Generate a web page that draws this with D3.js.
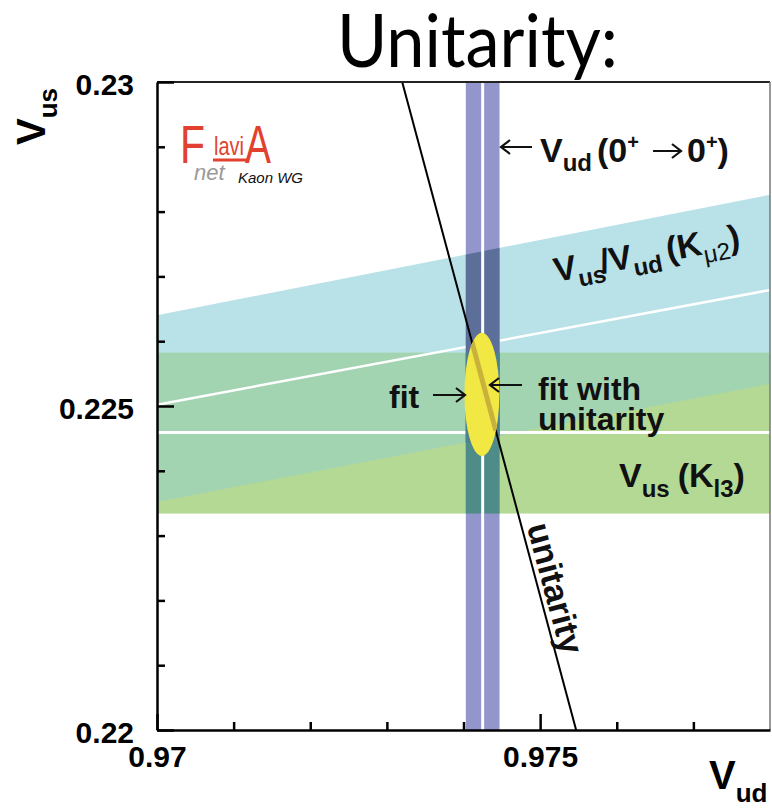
<!DOCTYPE html>
<html>
<head>
<meta charset="utf-8">
<script src="https://cdn.jsdelivr.net/npm/d3@7"></script>
<style>
	body { margin: 0; background: #fff; }
	text { font-family: "Liberation Sans", Arial, Helvetica, sans-serif; }
</style>
</head>
<body>
<div id="chart"></div>
<script>
// Axis ranges and ticks
var vudDomain = [0.97, 0.978];
var vusDomain = [0.22, 0.23];
var vudMinorTicks = [0.971, 0.972, 0.973, 0.974, 0.976, 0.977];
var vudMajorTicks = [0.97, 0.975];
var vudTickLabels = ["0.97", "0.975"];
var vusMinorTicks = [0.221, 0.222, 0.223, 0.224, 0.226, 0.227, 0.228, 0.229];
var vusMajorTicks = [0.22, 0.225, 0.23];
var vusTickLabels = ["0.22", "0.225", "0.23"];

// Vud from 0+ -> 0+ decays: low, central, high
var vudBand = [0.97403, 0.97425, 0.97447];
// Vus from Kl3: low, central, high
var kl3Band = [0.22334, 0.22459, 0.22582];
// Vus/Vud from Kmu2, read at the left and right edges
var km2Vud = [0.97, 0.978];
var km2Low = [0.22352, 0.22534];
var km2Mid = [0.22502, 0.22679];
var km2High = [0.22640, 0.22826];
// unitarity line end points
var unitarityVud = [0.97320, 0.97547];
var unitarityVus = [0.23, 0.22];
// fit ellipse: centre and half widths
var fitCenter = [0.97424, 0.22518];
var fitRadius = [0.000228, 0.00095];
// fit with unitarity (segment on the unitarity line)
var fitUnitVus = [0.22605, 0.22462];

var width = 772, height = 809;
var colors = {
	cyan: "#b8e2e8", green: "#b3d994", overlap: "#a3d4b1",
	blue: "#9296cb", blueCyan: "#5c6f98", blueGreen: "#4f8b89", blueOverlap: "#4d8090",
	fit: "#f1e843", fitUnit: "#c8b23c", logo: "#e3412f"
};

var svg = d3.select("#chart")
	.append("svg")
		.attr("width", width)
		.attr("height", height);

var x = d3.scaleLinear().domain(vudDomain).range([157, 770]);
var y = d3.scaleLinear().domain(vusDomain).range([730, 82]);

// unitarity: Vud as a straight line in Vus
var unitX = d3.scaleLinear().domain(unitarityVus).range(unitarityVud);

var defs = svg.append("defs");
defs.append("clipPath").attr("id", "plot")
	.append("rect")
		.attr("x", x(vudDomain[0])).attr("y", y(vusDomain[1]))
		.attr("width", x(vudDomain[1]) - x(vudDomain[0]))
		.attr("height", y(vusDomain[0]) - y(vusDomain[1]));
defs.append("clipPath").attr("id", "kl3")
	.append("rect")
		.attr("x", x(vudDomain[0])).attr("y", y(kl3Band[2]))
		.attr("width", x(vudDomain[1]) - x(vudDomain[0]))
		.attr("height", y(kl3Band[0]) - y(kl3Band[2]));
defs.append("clipPath").attr("id", "vud")
	.append("rect")
		.attr("x", x(vudBand[0])).attr("y", y(vusDomain[1]))
		.attr("width", x(vudBand[2]) - x(vudBand[0]))
		.attr("height", y(vusDomain[0]) - y(vusDomain[1]));
defs.append("clipPath").attr("id", "fitclip")
	.append("ellipse")
		.attr("cx", x(fitCenter[0])).attr("cy", y(fitCenter[1]))
		.attr("rx", x(fitCenter[0] + fitRadius[0]) - x(fitCenter[0]))
		.attr("ry", y(fitCenter[1]) - y(fitCenter[1] + fitRadius[1]));

var km2Points = [
	[km2Vud[0], km2Low[0]], [km2Vud[1], km2Low[1]],
	[km2Vud[1], km2High[1]], [km2Vud[0], km2High[0]]
];
var polyLine = d3.line()
	.x(function(d) { return x(d[0]); })
	.y(function(d) { return y(d[1]); });

var plot = svg.append("g").attr("clip-path", "url(#plot)");

// Draws the Kmu2 / Kl3 bands with a given colour set
function drawBands(g, c) {
	g.append("rect")
		.attr("x", x(vudDomain[0])).attr("y", y(vusDomain[1]))
		.attr("width", x(vudDomain[1]) - x(vudDomain[0]))
		.attr("height", y(vusDomain[0]) - y(vusDomain[1]))
		.style("fill", c.base);
	g.append("path")
		.attr("d", polyLine(km2Points) + "Z")
		.style("fill", c.cyan);
	g.append("rect")
		.attr("x", x(vudDomain[0])).attr("y", y(kl3Band[2]))
		.attr("width", x(vudDomain[1]) - x(vudDomain[0]))
		.attr("height", y(kl3Band[0]) - y(kl3Band[2]))
		.style("fill", c.green);
	g.append("g").attr("clip-path", "url(#kl3)")
		.append("path")
			.attr("d", polyLine(km2Points) + "Z")
			.style("fill", c.overlap);
}

drawBands(plot, {base: "#fff", cyan: colors.cyan, green: colors.green, overlap: colors.overlap});

// Central values of the two Vus measurements
plot.append("path")
	.attr("d", polyLine([[km2Vud[0], km2Mid[0]], [km2Vud[1], km2Mid[1]]]))
	.style("stroke", "#fff").style("stroke-width", 2.5).style("fill", "none");
plot.append("line")
	.attr("x1", x(vudDomain[0])).attr("x2", x(vudDomain[1]))
	.attr("y1", y(kl3Band[1])).attr("y2", y(kl3Band[1]))
	.style("stroke", "#fff").style("stroke-width", 3);

// Vud band (colours differ where it crosses the other bands)
drawBands(plot.append("g").attr("clip-path", "url(#vud)"),
	{base: colors.blue, cyan: colors.blueCyan, green: colors.blueGreen, overlap: colors.blueOverlap});
plot.append("line")
	.attr("x1", x(vudBand[1])).attr("x2", x(vudBand[1]))
	.attr("y1", y(vusDomain[0])).attr("y2", y(vusDomain[1]))
	.style("stroke", "#fff").style("stroke-width", 3);

// Unitarity line
plot.append("line")
	.attr("x1", x(unitarityVud[0])).attr("y1", y(unitarityVus[0]))
	.attr("x2", x(unitarityVud[1])).attr("y2", y(unitarityVus[1]))
	.style("stroke", "#000").style("stroke-width", 2);

// Fit ellipse and fit with unitarity
plot.append("ellipse")
	.attr("cx", x(fitCenter[0])).attr("cy", y(fitCenter[1]))
	.attr("rx", x(fitCenter[0] + fitRadius[0]) - x(fitCenter[0]))
	.attr("ry", y(fitCenter[1]) - y(fitCenter[1] + fitRadius[1]))
	.style("fill", colors.fit);
plot.append("g").attr("clip-path", "url(#fitclip)")
	.append("line")
		.attr("x1", x(unitX(fitUnitVus[0]))).attr("y1", y(fitUnitVus[0]))
		.attr("x2", x(unitX(fitUnitVus[1]))).attr("y2", y(fitUnitVus[1]))
		.style("stroke", colors.fitUnit).style("stroke-width", 5);

// Frame
svg.append("line")
	.attr("x1", x(vudDomain[0])).attr("x2", x(vudDomain[1]))
	.attr("y1", y(vusDomain[1])).attr("y2", y(vusDomain[1]))
	.style("stroke", "#222").style("stroke-width", 2);
svg.append("line")
	.attr("x1", x(vudDomain[1])).attr("x2", x(vudDomain[1]))
	.attr("y1", y(vusDomain[1])).attr("y2", y(vusDomain[0]))
	.style("stroke", "#777").style("stroke-width", 1.5);

// Axes: minor ticks, then major ticks with labels
function styleAxis(g) {
	g.selectAll("path.domain").style("stroke", "#000").style("stroke-width", 2.5);
	g.selectAll(".tick line").style("stroke", "#000").style("stroke-width", 2.5);
	g.selectAll("text")
		.style("font-family", "'Liberation Sans', Arial, sans-serif")
		.style("font-weight", "bold")
		.style("font-size", "30px")
		.style("fill", "#000");
}

svg.append("g")
	.attr("transform", "translate(0," + y(vusDomain[0]) + ")")
	.call(d3.axisBottom(x).tickValues(vudMinorTicks).tickSize(-8).tickFormat(""))
	.call(function(g) { g.select(".domain").remove(); })
	.call(styleAxis);
svg.append("g")
	.attr("transform", "translate(0," + y(vusDomain[0]) + ")")
	.call(d3.axisBottom(x).tickValues(vudMajorTicks).tickSizeInner(-16).tickSizeOuter(0)
		.tickPadding(16)
		.tickFormat(function(d, i) { return vudTickLabels[i]; }))
	.call(styleAxis);

svg.append("g")
	.attr("transform", "translate(" + x(vudDomain[0]) + ",0)")
	.call(d3.axisLeft(y).tickValues(vusMinorTicks).tickSize(-8).tickFormat(""))
	.call(function(g) { g.select(".domain").remove(); })
	.call(styleAxis);
svg.append("g")
	.attr("transform", "translate(" + x(vudDomain[0]) + ",0)")
	.call(d3.axisLeft(y).tickValues(vusMajorTicks).tickSizeInner(-17).tickSizeOuter(0)
		.tickPadding(23)
		.tickFormat(function(d, i) { return vusTickLabels[i]; }))
	.call(styleAxis)
	.call(function(g) { g.selectAll("text").attr("dy", "0.4em"); });

// Axis titles
var vudTitle = svg.append("text")
	.attr("x", 709).attr("y", 789)
	.style("font-weight", "bold").style("font-size", "40px");
vudTitle.append("tspan").text("V");
vudTitle.append("tspan").attr("dy", 13).style("font-size", "26px").text("ud");

var vusTitle = svg.append("text")
	.attr("transform", "translate(45,145) rotate(-90)")
	.style("font-weight", "bold").style("font-size", "40px");
vusTitle.append("tspan").text("V");
vusTitle.append("tspan").attr("dy", 12).style("font-size", "26px").text("us");

// Page title
svg.append("text")
	.attr("x", 337).attr("y", 67)
	.attr("textLength", 281).attr("lengthAdjust", "spacingAndGlyphs")
	.style("font-family", "Lato, 'Open Sans', sans-serif")
	.style("font-size", "74px")
	.text("Unitarity:");

// Arrows for the labels
function arrow(x1, y1, x2, y2) {
	var dir = x2 > x1 ? 1 : -1;
	svg.append("path")
		.attr("d", "M" + x1 + "," + y1 + "L" + x2 + "," + y2 +
			"M" + (x2 - dir * 9) + "," + (y2 - 7) + "L" + x2 + "," + y2 + "L" + (x2 - dir * 9) + "," + (y2 + 7))
		.style("stroke", "#111").style("stroke-width", 2.2).style("fill", "none");
}

// Band labels
var lab = svg.append("g").style("font-weight", "bold").style("font-size", "34px").style("fill", "#111");

var vudLab = lab.append("text").attr("x", 540).attr("y", 162);
vudLab.append("tspan").text("V");
vudLab.append("tspan").attr("dy", 9).style("font-size", "24px").text("ud");
vudLab.append("tspan").attr("dy", -9).attr("dx", 5).text("(0");
vudLab.append("tspan").attr("dy", -13).style("font-size", "20px").text("+");
var vudLab2 = lab.append("text").attr("x", 687).attr("y", 162);
vudLab2.append("tspan").text("0");
vudLab2.append("tspan").attr("dy", -13).style("font-size", "20px").text("+");
vudLab2.append("tspan").attr("dy", 13).text(")");
arrow(532, 147, 501, 147);
arrow(653, 151, 681, 151);

var angle = Math.atan2(y(km2Mid[1]) - y(km2Mid[0]), x(km2Vud[1]) - x(km2Vud[0])) * 180 / Math.PI;
var km2Lab = lab.append("text")
	.attr("transform", "translate(556,282) rotate(" + angle + ")");
km2Lab.append("tspan").text("V");
km2Lab.append("tspan").attr("dy", 9).style("font-size", "24px").text("us");
km2Lab.append("tspan").attr("dy", -9).attr("dx", -4).text("/V");
km2Lab.append("tspan").attr("dy", 9).style("font-size", "24px").text("ud");
km2Lab.append("tspan").attr("dy", -9).attr("dx", 6).text("(K");
km2Lab.append("tspan").attr("dy", 9).style("font-size", "24px").style("font-weight", "normal").text("\u03bc2");
km2Lab.append("tspan").attr("dy", -9).text(")");

var kl3Lab = lab.append("text").attr("x", 619).attr("y", 487);
kl3Lab.append("tspan").text("V");
kl3Lab.append("tspan").attr("dy", 10).style("font-size", "24px").text("us");
kl3Lab.append("tspan").attr("dy", -10).attr("dx", 8).text("(K");
kl3Lab.append("tspan").attr("dy", 10).style("font-size", "24px").text("l3");
kl3Lab.append("tspan").attr("dy", -10).text(")");

lab.append("text").attr("x", 389).attr("y", 408).style("font-size", "32px").text("fit");
lab.append("text").attr("x", 538).attr("y", 400).style("font-size", "32px").text("fit with");
lab.append("text").attr("x", 538).attr("y", 430).style("font-size", "32px").text("unitarity");

arrow(433, 395, 465, 395);
arrow(522, 385, 490, 385);

// Label along the unitarity line
var uVus = 0.22312;
var uAngle = Math.atan2(y(unitarityVus[1]) - y(unitarityVus[0]), x(unitarityVud[1]) - x(unitarityVud[0])) * 180 / Math.PI;
lab.append("text")
	.attr("transform", "translate(" + x(unitX(uVus)) + "," + y(uVus) + ") rotate(" + uAngle + ")")
	.attr("dy", -5)
	.text("unitarity");

// FlaviA net logo
var logo = svg.append("g").style("fill", colors.logo);
logo.append("text").attr("x", 180).attr("y", 163)
	.attr("textLength", 25).attr("lengthAdjust", "spacingAndGlyphs")
	.style("font-size", "54px").text("F");
logo.append("text").attr("x", 214).attr("y", 155)
	.attr("textLength", 30).attr("lengthAdjust", "spacingAndGlyphs")
	.style("font-size", "26px").text("lavi");
logo.append("path")
	.attr("d", "M213,160L249,160")
	.style("stroke", colors.logo).style("stroke-width", 3);
logo.append("text").attr("x", 245).attr("y", 163)
	.attr("textLength", 26).attr("lengthAdjust", "spacingAndGlyphs")
	.style("font-size", "54px").text("A");
svg.append("text").attr("x", 194).attr("y", 180)
	.style("font-size", "22px").style("font-style", "italic").style("fill", "#9a9a9a")
	.text("net");
svg.append("text").attr("x", 238).attr("y", 183)
	.style("font-size", "15px").style("font-style", "italic").style("fill", "#111")
	.text("Kaon WG");
</script>
</body>
</html>
